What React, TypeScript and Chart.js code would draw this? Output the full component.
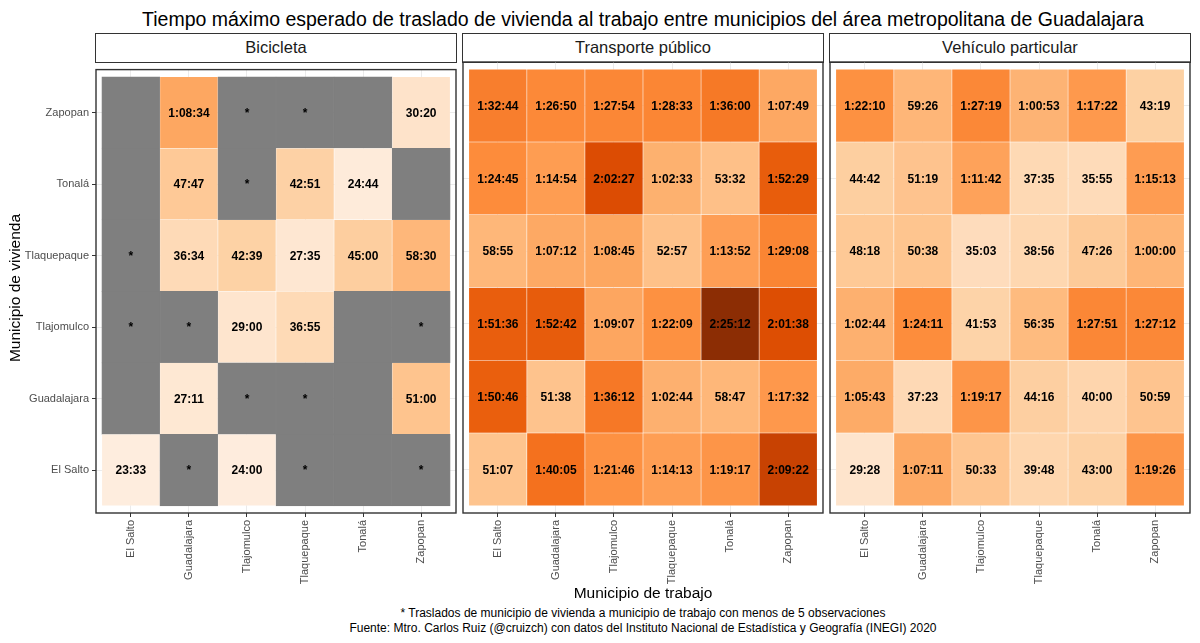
import React, { useEffect, useRef } from 'react';
import { Chart, registerables } from 'chart.js';

Chart.register(...registerables);

// Municipios del área metropolitana (eje x: trabajo, eje y: vivienda)
const municipios = ['El Salto', 'Guadalajara', 'Tlajomulco', 'Tlaquepaque', 'Tonalá', 'Zapopan'];

const modos = ['Bicicleta', 'Transporte público', 'Vehículo particular'];

// Filas: municipio de vivienda (El Salto → Zapopan), columnas: municipio de trabajo.
// '*' = menos de 5 observaciones, null = sin registro
const bicicleta: (string | null)[][] = [
  ['23:33', '*', '24:00', '*', null, '*'],
  [null, '27:11', '*', '*', null, '51:00'],
  ['*', '*', '29:00', '36:55', null, '*'],
  ['*', '36:34', '42:39', '27:35', '45:00', '58:30'],
  [null, '47:47', '*', '42:51', '24:44', null],
  [null, '1:08:34', '*', '*', null, '30:20'],
];

const transportePublico: (string | null)[][] = [
  ['51:07', '1:40:05', '1:21:46', '1:14:13', '1:19:17', '2:09:22'],
  ['1:50:46', '51:38', '1:36:12', '1:02:44', '58:47', '1:17:32'],
  ['1:51:36', '1:52:42', '1:09:07', '1:22:09', '2:25:12', '2:01:38'],
  ['58:55', '1:07:12', '1:08:45', '52:57', '1:13:52', '1:29:08'],
  ['1:24:45', '1:14:54', '2:02:27', '1:02:33', '53:32', '1:52:29'],
  ['1:32:44', '1:26:50', '1:27:54', '1:28:33', '1:36:00', '1:07:49'],
];

const vehiculoParticular: (string | null)[][] = [
  ['29:28', '1:07:11', '50:33', '39:48', '43:00', '1:19:26'],
  ['1:05:43', '37:23', '1:19:17', '44:16', '40:00', '50:59'],
  ['1:02:44', '1:24:11', '41:53', '56:35', '1:27:51', '1:27:12'],
  ['48:18', '50:38', '35:03', '38:56', '47:26', '1:00:00'],
  ['44:42', '51:19', '1:11:42', '37:35', '35:55', '1:15:13'],
  ['1:22:10', '59:26', '1:27:19', '1:00:53', '1:17:22', '43:19'],
];

const tablas = [bicicleta, transportePublico, vehiculoParticular];

// Paleta secuencial de naranjas (7 pasos)
const naranjas = ['#FEEDDE', '#FDD0A2', '#FDAE6B', '#FD8D3C', '#F16913', '#D94801', '#8C2D04'];
const grisSinDato = '#7F7F7F';

const FONT = '"Liberation Sans", Arial, Helvetica, sans-serif';

// Layout (px)
const PANEL_W = 360;
const PANEL_TOP = 62;
const PANEL_BOTTOM = 513;
const panelLefts = [96, 463, 830];
const CANVAS_TOP = 60;
const CANVAS_H = 540;

const segundos = (t: string) => t.split(':').reduce((acc, p) => acc * 60 + Number(p), 0);

const esTiempo = (v: string | null) => v !== null && v !== '*';

const todos = tablas.flat(2).filter(esTiempo).map((v) => segundos(v as string));
const minSeg = Math.min(...todos);
const maxSeg = Math.max(...todos);

// --- interpolación en espacio Lab ---
const hexRgb = (h: string) => [1, 3, 5].map((i) => parseInt(h.slice(i, i + 2), 16));
const lin = (c: number) => {
  c /= 255;
  return c <= 0.04045 ? c / 12.92 : Math.pow((c + 0.055) / 1.055, 2.4);
};
const delin = (c: number) => {
  const v = c <= 0.0031308 ? 12.92 * c : 1.055 * Math.pow(c, 1 / 2.4) - 0.055;
  return Math.max(0, Math.min(255, Math.round(v * 255)));
};
const Xn = 0.95047, Yn = 1, Zn = 1.08883;
const f = (t: number) => (t > 0.008856 ? Math.cbrt(t) : 7.787 * t + 16 / 116);
const fi = (t: number) => (t > 0.206893 ? t * t * t : (t - 16 / 116) / 7.787);
const rgbLab = (rgb: number[]) => {
  const [r, g, b] = rgb.map(lin);
  const x = (0.4124 * r + 0.3576 * g + 0.1805 * b) / Xn;
  const y = (0.2126 * r + 0.7152 * g + 0.0722 * b) / Yn;
  const z = (0.0193 * r + 0.1192 * g + 0.9505 * b) / Zn;
  const fx = f(x), fy = f(y), fz = f(z);
  return [116 * fy - 16, 500 * (fx - fy), 200 * (fy - fz)];
};
const labRgb = (lab: number[]) => {
  const fy = (lab[0] + 16) / 116;
  const fx = fy + lab[1] / 500;
  const fz = fy - lab[2] / 200;
  const x = fi(fx) * Xn, y = fi(fy) * Yn, z = fi(fz) * Zn;
  const r = 3.2406 * x - 1.5372 * y - 0.4986 * z;
  const g = -0.9689 * x + 1.8758 * y + 0.0415 * z;
  const b = 0.0557 * x - 0.204 * y + 1.057 * z;
  return [delin(r), delin(g), delin(b)];
};
const paletaLab = naranjas.map((h) => rgbLab(hexRgb(h)));

const colorPara = (v: string | null) => {
  if (!esTiempo(v)) return grisSinDato;
  const t = (segundos(v as string) - minSeg) / (maxSeg - minSeg);
  const pos = t * (paletaLab.length - 1);
  const i = Math.min(Math.floor(pos), paletaLab.length - 2);
  const u = pos - i;
  const a = paletaLab[i], b = paletaLab[i + 1];
  const [r, g, bl] = labRgb(a.map((c, k) => c + (b[k] - c) * u));
  return `rgb(${r},${g},${bl})`;
};

// Junta tenue entre celdas con color; las celdas sin dato no la muestran
const juntaPara = (v: string | null) => (esTiempo(v) ? 'rgba(255,255,255,0.3)' : grisSinDato);

function Panel({ idx }: { idx: number }) {
  const ref = useRef<HTMLCanvasElement>(null);
  const left = panelLefts[idx];
  const showY = idx === 0;
  const canvasLeft = showY ? 0 : left - 2;
  const canvasW = left + PANEL_W + 2 - canvasLeft;
  const tabla = tablas[idx];

  useEffect(() => {
    const datasets = tabla.map((fila, r) => ({
      data: fila.map((_, c) => ({ x: c, y: [r - 0.5, r + 0.5] })),
      backgroundColor: fila.map(colorPara),
      borderColor: fila.map(juntaPara),
      borderWidth: 0.6,
      borderSkipped: false,
      barPercentage: 1,
      categoryPercentage: 1,
      grouped: false,
    }));

    const etiquetas = {
      id: 'etiquetasCeldas',
      afterDatasetsDraw(chart: any) {
        const ctx = chart.ctx;
        ctx.save();
        ctx.font = `bold 12px ${FONT}`;
        ctx.fillStyle = '#000000';
        ctx.textAlign = 'center';
        ctx.textBaseline = 'middle';
        tabla.forEach((fila, r) => {
          const meta = chart.getDatasetMeta(r);
          fila.forEach((v, c) => {
            if (v === null) return;
            const el = meta.data[c];
            ctx.fillText(v, el.x, (el.y + el.base) / 2 + 1);
          });
        });
        ctx.restore();
      },
    };

    const borde = {
      id: 'bordePanel',
      afterDraw(chart: any) {
        const { ctx, chartArea: a } = chart;
        ctx.save();
        ctx.strokeStyle = '#333333';
        ctx.lineWidth = 1.4;
        ctx.strokeRect(a.left, a.top, a.right - a.left, a.bottom - a.top);
        ctx.restore();
      },
    };

    const ticksFijos = (s: any) => {
      s.ticks = municipios.map((_, i) => ({ value: i }));
    };

    const chart = new Chart(ref.current as HTMLCanvasElement, {
      type: 'bar',
      data: { datasets: datasets as any },
      options: {
        animation: false,
        responsive: false,
        devicePixelRatio: 1,
        events: [],
        layout: { padding: { top: 2, right: 2, left: showY ? 0 : 2, bottom: 0 } },
        plugins: { legend: { display: false }, tooltip: { enabled: false } },
        scales: {
          x: {
            type: 'linear',
            min: -0.6,
            max: 5.6,
            offset: false,
            afterBuildTicks: ticksFijos,
            afterFit: (s: any) => {
              s.height = CANVAS_H - (PANEL_BOTTOM - CANVAS_TOP);
            },
            grid: {
              offset: false,
              color: '#EBEBEB',
              lineWidth: 1,
              drawTicks: true,
              tickLength: 4,
              tickColor: '#333333',
              tickWidth: 1,
            },
            border: { display: false },
            ticks: {
              autoSkip: false,
              minRotation: 90,
              maxRotation: 90,
              padding: 3,
              color: '#4D4D4D',
              font: { family: FONT, size: 11 },
              callback: (v: any) => municipios[v as number] ?? '',
            },
          },
          y: {
            type: 'linear',
            min: -0.6,
            max: 5.6,
            offset: false,
            afterBuildTicks: ticksFijos,
            afterFit: (s: any) => {
              s.width = showY ? panelLefts[0] : 0;
            },
            grid: {
              offset: false,
              color: '#EBEBEB',
              lineWidth: 1,
              drawTicks: showY,
              tickLength: 4,
              tickColor: '#333333',
              tickWidth: 1,
            },
            border: { display: false },
            ticks: {
              display: showY,
              padding: 3,
              color: '#4D4D4D',
              font: { family: FONT, size: 11 },
              callback: (v: any) => municipios[v as number] ?? '',
            },
          },
        },
      },
      plugins: [etiquetas, borde],
    } as any);
    return () => chart.destroy();
  }, []);

  return (
    <>
      <div
        style={{
          position: 'absolute',
          left: left - 0.7,
          top: 33.3,
          width: PANEL_W + 1.4,
          height: PANEL_TOP - 33.3 + 0.7,
          boxSizing: 'border-box',
          border: '1.4px solid #333333',
          background: '#ffffff',
          display: 'flex',
          alignItems: 'center',
          justifyContent: 'center',
          fontFamily: FONT,
          fontSize: 16.5,
          color: '#1A1A1A',
        }}
      >
        {modos[idx]}
      </div>
      <canvas
        ref={ref}
        width={canvasW}
        height={CANVAS_H}
        style={{ position: 'absolute', left: canvasLeft, top: CANVAS_TOP, width: canvasW, height: CANVAS_H }}
      />
    </>
  );
}

export default function App() {
  const centro = (panelLefts[0] + panelLefts[2] + PANEL_W) / 2;
  return (
    <div
      style={{
        position: 'fixed',
        left: 0,
        top: 0,
        width: 1200,
        height: 643,
        background: '#ffffff',
        overflow: 'hidden',
        fontFamily: FONT,
      }}
    >
      <div
        style={{
          position: 'absolute',
          left: centro - 600,
          width: 1200,
          top: 8.5,
          textAlign: 'center',
          fontSize: 19.5,
          lineHeight: '20px',
          color: '#000000',
          whiteSpace: 'nowrap',
        }}
      >
        Tiempo máximo esperado de traslado de vivienda al trabajo entre municipios del área metropolitana de Guadalajara
      </div>
      {modos.map((_, i) => (
        <Panel key={i} idx={i} />
      ))}
      <div
        style={{
          position: 'absolute',
          left: 15 - 200,
          top: (PANEL_TOP + PANEL_BOTTOM) / 2 - 10,
          width: 400,
          height: 20,
          lineHeight: '20px',
          textAlign: 'center',
          fontSize: 15.5,
          color: '#000000',
          transform: 'rotate(-90deg)',
          whiteSpace: 'nowrap',
        }}
      >
        Municipio de vivienda
      </div>
      <div
        style={{
          position: 'absolute',
          left: centro - 300,
          width: 600,
          top: 584,
          lineHeight: '18px',
          textAlign: 'center',
          fontSize: 15.5,
          color: '#000000',
          whiteSpace: 'nowrap',
        }}
      >
        Municipio de trabajo
      </div>
      <div
        style={{
          position: 'absolute',
          left: centro - 500,
          width: 1000,
          top: 606,
          lineHeight: '15px',
          textAlign: 'center',
          fontSize: 12,
          color: '#000000',
          whiteSpace: 'nowrap',
        }}
      >
        <div>* Traslados de municipio de vivienda a municipio de trabajo con menos de 5 observaciones</div>
        <div>Fuente: Mtro. Carlos Ruiz (@cruizch) con datos del Instituto Nacional de Estadística y Geografía (INEGI) 2020</div>
      </div>
    </div>
  );
}
